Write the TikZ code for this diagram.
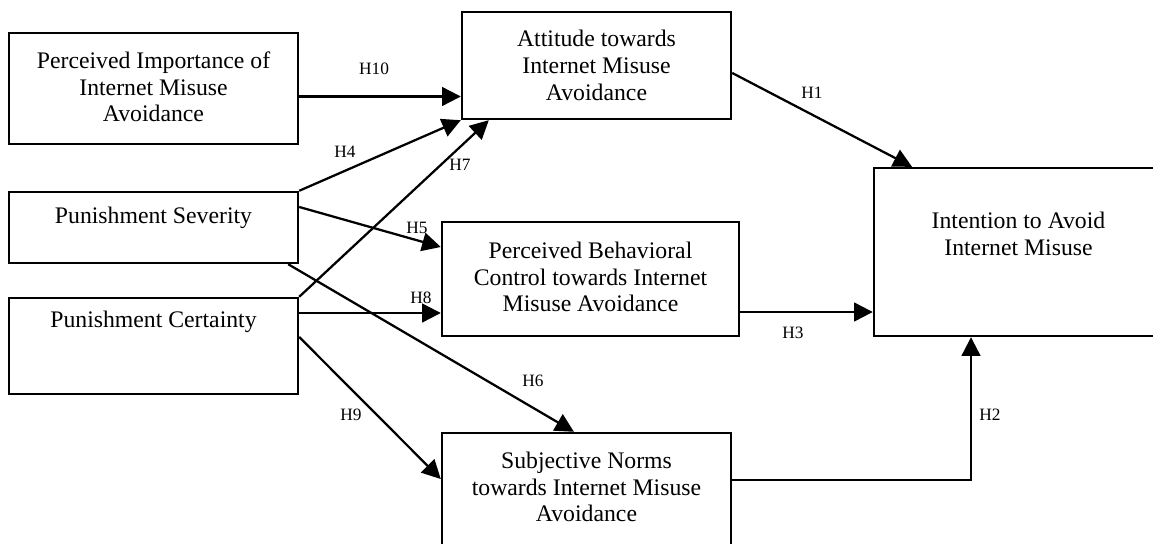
\documentclass[tikz,border=0pt]{standalone}
\usepackage{fontspec}
\setmainfont{Liberation Serif}
\usetikzlibrary{arrows.meta}
\begin{document}
\begin{tikzpicture}[x=0.75pt,y=-0.75pt,
  box/.style={draw, line width=1.8pt, rectangle, inner sep=0pt},
  txt/.style={align=center, font=\fontsize{17.8}{20}\selectfont, inner sep=0pt},
  hlab/.style={font=\fontsize{13}{15}\selectfont, inner sep=0pt},
  arr/.style={line width=1.7pt, -{Triangle[length=14pt,width=14pt]}}]
\useasboundingbox (0,0) rectangle (1153,543);
\clip (0,0) rectangle (1153,543);
% boxes
\node[box, minimum width=216.75pt, minimum height=83.25pt] (pi) at (153.5,88.5) {};
\node[box, minimum width=201.75pt, minimum height=80.25pt] (att) at (596.5,65.5) {};
\node[box, minimum width=216.75pt, minimum height=53.25pt] (ps) at (153.5,227.5) {};
\node[box, minimum width=216.75pt, minimum height=72pt] (pc) at (153.5,346) {};
\node[box, minimum width=222.75pt, minimum height=85.5pt] (pbc) at (590.5,279) {};
\node[box, minimum width=214.5pt, minimum height=126pt] (int) at (1017,252) {};
\node[box, minimum width=216.75pt, minimum height=95.25pt] (sn) at (586.5,496.5) {};
% texts
\node[txt] (tpi) at (153.5,87) {Perceived Importance of\\Internet Misuse\\Avoidance};
\node[txt] (tatt) at (596.5,65.5) {Attitude towards\\Internet Misuse\\Avoidance};
\node[txt] (tps) at (153.5,218) {Punishment Severity};
\node[txt] (tpc) at (153.5,322) {Punishment Certainty};
\node[txt] (tpbc) at (590.5,277) {Perceived Behavioral\\Control towards Internet\\Misuse Avoidance};
\node[txt] (tint) at (1018.5,234) {Intention to Avoid\\Internet Misuse};
\node[txt] (tsn) at (586.5,487) {Subjective Norms\\towards Internet Misuse\\Avoidance};
% connectors
\draw[arr] ([yshift=-6pt]pi.east) -- ([yshift=-6pt]pi.east -| att.west);
\draw[arr] (ps.north east) -- (att.south west);
\draw[arr] (pc.north east) -- ([xshift=21pt]att.south west);
\draw[arr] ([yshift=15.4pt]ps.east) -- ([yshift=24pt]pbc.west);
\draw[arr] ([xshift=-8.25pt]ps.south east) -- ([xshift=-9.4pt]sn.north);
\draw[arr] ([yshift=24.75pt]pc.east) -- ([yshift=24.75pt]pc.east -| pbc.west);
\draw[arr] ([yshift=6.75pt]pc.east) -- ([yshift=13.1pt]sn.west);
\draw[arr] ([yshift=-5.6pt]att.east) -- ([xshift=-78.75pt]int.north);
\draw[arr] ([yshift=-24.75pt]pbc.east) -- ([yshift=-24.75pt]pbc.east -| int.west);
\draw[arr] ([yshift=12.4pt]sn.east) -| ([xshift=-34.5pt]int.south);
% labels
\node[hlab] (h10) at (374,69) {H10};
\node[hlab] (h4) at (345,152) {H4};
\node[hlab] (h7) at (460,165) {H7};
\node[hlab] (h5) at (417,228) {H5};
\node[hlab] (h6) at (533,381) {H6};
\node[hlab] (h8) at (421,298) {H8};
\node[hlab] (h9) at (351,415) {H9};
\node[hlab] (h1) at (812,93) {H1};
\node[hlab] (h3) at (793,333) {H3};
\node[hlab] (h2) at (990,415) {H2};
\end{tikzpicture}
\end{document}
